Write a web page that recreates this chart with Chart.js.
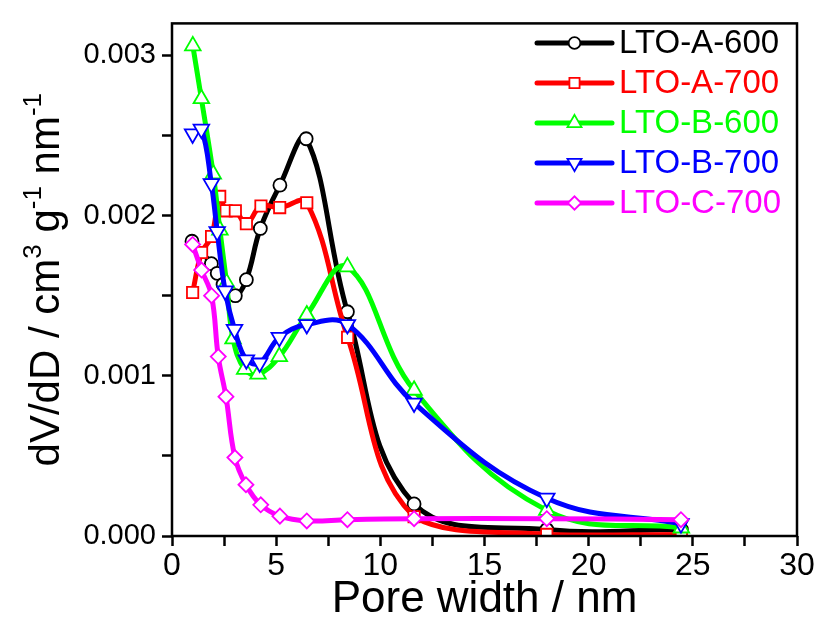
<!DOCTYPE html>
<html>
<head>
<meta charset="utf-8">
<script src="https://cdn.jsdelivr.net/npm/chart.js@4.4.0/dist/chart.umd.min.js"></script>
<style>
  html, body { margin: 0; padding: 0; background: #fff; }
</style>
</head>
<body>
<canvas id="poreChart" width="822" height="622"></canvas>
<script>
// BJH pore size distributions
const seriesNames = ['LTO-A-600', 'LTO-A-700', 'LTO-B-600', 'LTO-B-700', 'LTO-C-700'];
const seriesColors = ['#000000', '#ff0000', '#00ff00', '#0000ff', '#ff00ff'];

const xA600 = [0.96, 1.89, 2.17, 2.45, 3.04, 3.57, 4.24, 5.18, 6.44, 8.42, 11.62, 17.99, 24.45];
const yA600 = [0.00184, 0.0017, 0.00164, 0.00157, 0.0015, 0.0016, 0.00192, 0.00219, 0.00248, 0.0014, 0.0002, 0.00004, 0.00004];

const xA700 = [0.99, 1.42, 1.9, 2.29, 2.6, 3.04, 3.57, 4.27, 5.17, 6.47, 8.43, 11.62, 17.99, 24.45];
const yA700 = [0.00152, 0.00177, 0.00187, 0.00212, 0.00203, 0.00203, 0.00195, 0.00206, 0.00205, 0.00208, 0.00124, 0.00012, 0.00001, 0.00001];

const xB600 = [1.0, 1.41, 1.98, 2.3, 2.62, 2.93, 3.49, 4.13, 5.15, 6.47, 8.42, 11.62, 17.99, 24.45];
const yB600 = [0.00306, 0.00273, 0.00226, 0.00191, 0.00158, 0.00123, 0.00104, 0.00101, 0.00112, 0.00138, 0.00168, 0.00091, 0.00016, 0.00005];

const xB700 = [0.99, 1.41, 1.89, 2.17, 2.55, 3.0, 3.57, 4.21, 5.15, 6.47, 8.42, 11.62, 17.99, 24.43];
const yB700 = [0.00251, 0.00254, 0.0022, 0.0019, 0.00153, 0.00129, 0.0011, 0.00108, 0.00124, 0.00132, 0.00132, 0.00083, 0.000236, 0.000077];

const xC700 = [0.99, 1.42, 1.9, 2.22, 2.59, 3.02, 3.55, 4.26, 5.18, 6.47, 8.42, 11.62, 17.99, 24.43];
const yC700 = [0.00182, 0.00166, 0.0015, 0.00112, 0.00087, 0.00049, 0.00032, 0.000195, 0.000124, 0.000094, 0.000102, 0.000108, 0.000108, 0.000102];

const xTicks = [0, 2.5, 5, 7.5, 10, 12.5, 15, 17.5, 20, 22.5, 25, 27.5, 30];
const yTicks = [0, 0.0005, 0.001, 0.0015, 0.002, 0.0025, 0.003];

const xs = [xA600, xA700, xB600, xB700, xC700];
const ys = [yA600, yA700, yB600, yB700, yC700];
const markers = [
  { style: 'circle', radius: 6.5, rotation: 0 },
  { style: 'rect', radius: 8, rotation: 0 },
  { style: 'triangle', radius: 9, rotation: 0 },
  { style: 'triangle', radius: 9, rotation: 180 },
  { style: 'rectRot', radius: 7.5, rotation: 0 }
];

const FONT = "'Liberation Sans', Arial, sans-serif";

function toPoints(xv, yv) {
  return xv.map((x, i) => ({ x: x, y: yv[i] }));
}

const datasets = seriesNames.map((name, i) => ({
  label: name,
  data: toPoints(xs[i], ys[i]),
  borderColor: seriesColors[i],
  borderWidth: 5,
  tension: 0.4,
  pointStyle: markers[i].style,
  pointRadius: markers[i].radius,
  pointRotation: markers[i].rotation,
  pointBackgroundColor: '#ffffff',
  pointBorderColor: seriesColors[i],
  pointBorderWidth: 1.8,
  order: seriesNames.length - i
}));

// full box around the plot
const framePlugin = {
  id: 'frame',
  afterDraw(chart) {
    const a = chart.chartArea, ctx = chart.ctx;
    ctx.save();
    ctx.strokeStyle = '#000';
    ctx.lineWidth = 2.5;
    ctx.strokeRect(a.left, a.top, a.right - a.left, a.bottom - a.top);
    ctx.restore();
  }
};

// y title with superscripts
const yTitlePlugin = {
  id: 'yTitle',
  afterDraw(chart) {
    const ctx = chart.ctx, a = chart.chartArea;
    const size = 42, sup = 26;
    const parts = [
      ['dV/dD / cm', false], ['3', true], [' g', false], ['-1', true], [' nm', false], ['-1', true]
    ];
    ctx.save();
    ctx.translate(44, (a.top + a.bottom) / 2);
    ctx.rotate(-Math.PI / 2);
    ctx.fillStyle = '#000';
    ctx.textBaseline = 'alphabetic';
    let total = 0;
    parts.forEach(p => {
      ctx.font = (p[1] ? sup : size) + 'px ' + FONT;
      total += ctx.measureText(p[0]).width;
    });
    let x = -total / 2;
    const base = size * 0.36;
    parts.forEach(p => {
      ctx.font = (p[1] ? sup : size) + 'px ' + FONT;
      ctx.fillText(p[0], x, p[1] ? base - size * 0.42 : base);
      x += ctx.measureText(p[0]).width;
    });
    ctx.restore();
  }
};

// legend: line with marker, coloured text
const legendPlugin = {
  id: 'lineLegend',
  afterDraw(chart) {
    const ctx = chart.ctx;
    const x0 = 537, x1 = 612, top = 43, step = 40;
    ctx.save();
    chart.data.datasets.forEach((ds, i) => {
      const y = top + i * step;
      ctx.strokeStyle = ds.borderColor;
      ctx.lineWidth = 5;
      ctx.lineCap = 'round';
      ctx.beginPath();
      ctx.moveTo(x0, y);
      ctx.lineTo(x1, y);
      ctx.stroke();
      ctx.fillStyle = '#fff';
      ctx.strokeStyle = ds.borderColor;
      ctx.lineWidth = 1.8;
      Chart.helpers.drawPoint(ctx, {
        pointStyle: ds.pointStyle,
        rotation: ds.pointRotation,
        radius: ds.pointRadius * 0.9,
        borderWidth: 1.8
      }, (x0 + x1) / 2, y);
      ctx.fillStyle = ds.borderColor;
      ctx.font = '33px ' + FONT;
      ctx.textBaseline = 'middle';
      ctx.textAlign = 'left';
      ctx.fillText(ds.label, 619, y + 1);
    });
    ctx.restore();
  }
};

new Chart(document.getElementById('poreChart'), {
  type: 'line',
  data: { datasets: datasets },
  options: {
    responsive: false,
    animation: false,
    devicePixelRatio: 1,
    layout: { padding: { top: 13, right: 25, left: 0, bottom: 0 } },
    plugins: {
      legend: { display: false },
      tooltip: { enabled: false }
    },
    scales: {
      x: {
        type: 'linear',
        min: 0,
        max: 30,
        afterBuildTicks: (s) => { s.ticks = xTicks.map(v => ({ value: v })); },
        afterFit: (s) => { s.height = 86; },
        border: { display: false },
        grid: { drawOnChartArea: false, drawTicks: true, tickLength: 10, tickWidth: 2.5, tickColor: '#000' },
        ticks: {
          color: '#000',
          padding: 1,
          maxRotation: 0,
          autoSkip: false,
          font: { family: FONT, size: 32 },
          callback: (v) => (v % 5 === 0 ? String(v) : '')
        },
        title: {
          display: true,
          text: 'Pore width / nm',
          color: '#000',
          font: { family: FONT, size: 44, lineHeight: 1 },
          padding: { top: 0, bottom: 0 }
        }
      },
      y: {
        type: 'linear',
        min: 0,
        max: 0.0032,
        afterBuildTicks: (s) => { s.ticks = yTicks.map(v => ({ value: v })); },
        afterFit: (s) => { s.width = 172; },
        border: { display: false },
        grid: { drawOnChartArea: false, drawTicks: true, tickLength: 10, tickWidth: 2.5, tickColor: '#000' },
        ticks: {
          color: '#000',
          padding: 6,
          autoSkip: false,
          font: { family: FONT, size: 29 },
          callback: (v) => (Math.abs(v * 1000 - Math.round(v * 1000)) < 1e-9 ? v.toFixed(3) : '')
        }
      }
    }
  },
  plugins: [framePlugin, yTitlePlugin, legendPlugin]
});
</script>
</body>
</html>
